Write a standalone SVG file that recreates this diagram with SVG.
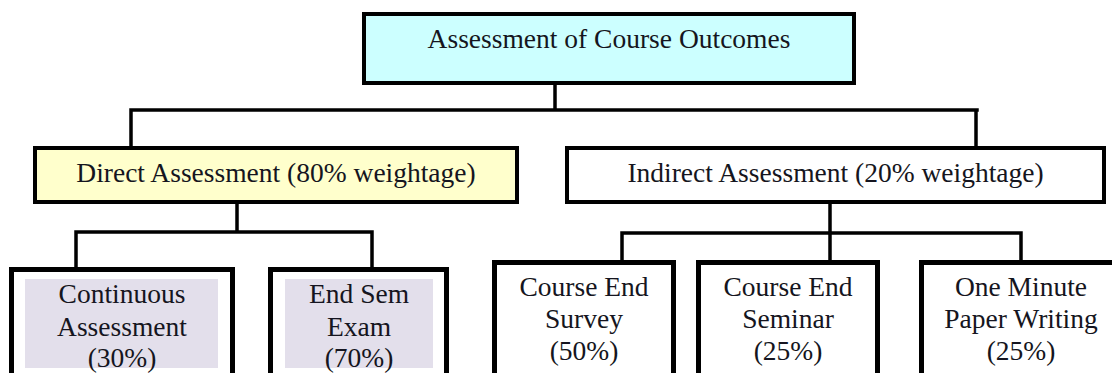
<svg xmlns="http://www.w3.org/2000/svg" width="1112" height="373" viewBox="0 0 1112 373">
  <style>
    .t { font-family: 'Liberation Serif', 'Times New Roman', Times, serif; font-size: 27.5px; fill: #151520; text-anchor: middle; }
    .box { stroke: #000; stroke-width: 4; }
    .leaf { fill: #fff; stroke: #000; stroke-width: 5; }
    .inner { fill: #e3dfeb; stroke: none; }
    .conn { fill: none; stroke: #000; stroke-width: 3.5; stroke-linecap: square; }
  </style>
  <rect width="1112" height="373" fill="#fff"/>
  <g id="connectors">
    <path class="conn" d="M555 85 V110 M131 110 H977 M131 110 V146 M976 110 V146"/>
    <path class="conn" d="M237 204 V232 M76 232 H372 M76 232 V267 M372 232 V267"/>
    <path class="conn" d="M830 204 V260 M622 233 H1021 M622 233 V260 M1021 233 V260"/>
  </g>
  <g id="root">
    <rect class="box" x="364" y="14" width="490" height="69" fill="#ccffff"/>
    <text class="t" x="609" y="48">Assessment of Course Outcomes</text>
  </g>
  <g id="direct">
    <rect class="box" x="35" y="148" width="482" height="54" fill="#ffffcc"/>
    <text class="t" x="276" y="182">Direct Assessment (80% weightage)</text>
  </g>
  <g id="indirect">
    <rect class="box" x="567" y="148" width="537" height="54" fill="#fff"/>
    <text class="t" x="835.5" y="182">Indirect Assessment (20% weightage)</text>
  </g>
  <g id="continuous">
    <rect class="leaf" x="11.5" y="269.5" width="221" height="120"/>
    <rect class="inner" x="25" y="279" width="193" height="89"/>
    <text class="t" x="122" y="303">Continuous</text>
    <text class="t" x="122" y="336">Assessment</text>
    <text class="t" x="122" y="367">(30%)</text>
  </g>
  <g id="endsem">
    <rect class="leaf" x="270.5" y="269.5" width="176" height="120"/>
    <rect class="inner" x="285" y="279" width="148" height="89"/>
    <text class="t" x="359" y="303">End Sem</text>
    <text class="t" x="359" y="336">Exam</text>
    <text class="t" x="359" y="367">(70%)</text>
  </g>
  <g id="survey">
    <rect class="leaf" x="494.5" y="262.5" width="179" height="130"/>
    <text class="t" x="584" y="296">Course End</text>
    <text class="t" x="584" y="328">Survey</text>
    <text class="t" x="584" y="360">(50%)</text>
  </g>
  <g id="seminar">
    <rect class="leaf" x="698.5" y="262.5" width="179" height="130"/>
    <text class="t" x="788" y="296">Course End</text>
    <text class="t" x="788" y="328">Seminar</text>
    <text class="t" x="788" y="360">(25%)</text>
  </g>
  <g id="oneminute">
    <rect class="leaf" x="921.5" y="262.5" width="198" height="130"/>
    <text class="t" x="1021" y="296">One Minute</text>
    <text class="t" x="1021" y="328">Paper Writing</text>
    <text class="t" x="1021" y="360">(25%)</text>
  </g>
</svg>
